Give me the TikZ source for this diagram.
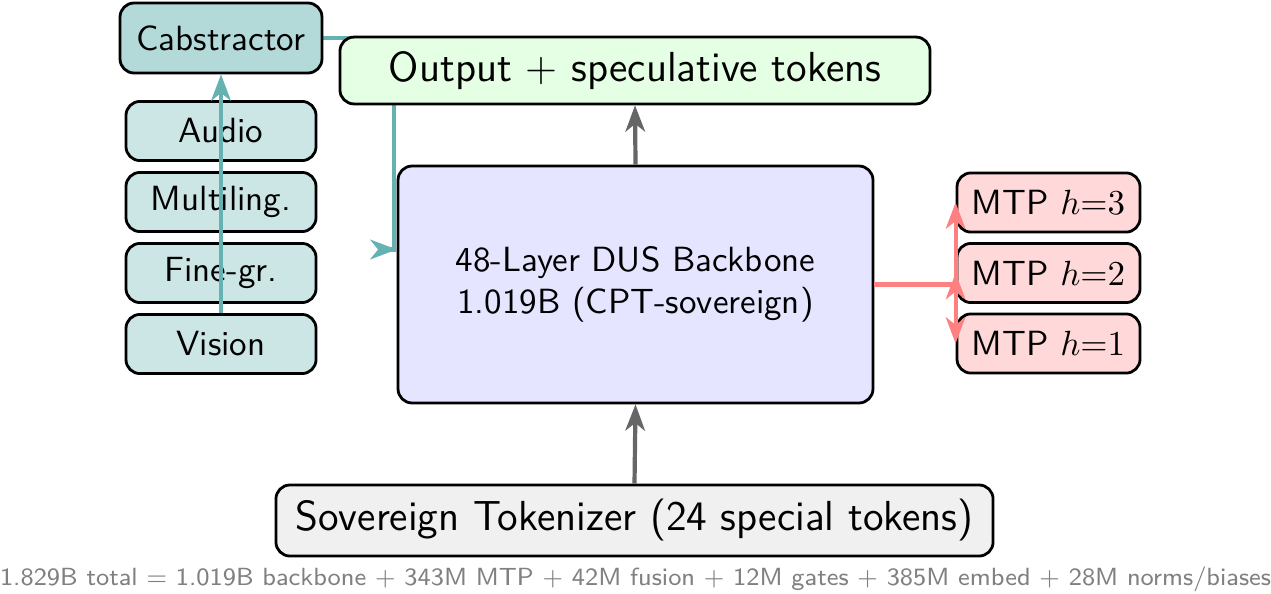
\documentclass[tikz,border=0pt]{standalone}
\usetikzlibrary{arrows.meta,backgrounds,calc}
\renewcommand\familydefault{\sfdefault}
\definecolor{cabfill}{HTML}{B3D9D9}
\definecolor{modfill}{HTML}{CCE5E5}
\definecolor{tealline}{HTML}{66B2B2}
\definecolor{outfill}{HTML}{E5FFE5}
\definecolor{bbfill}{HTML}{E5E5FF}
\definecolor{mtpfill}{HTML}{FFD9D9}
\definecolor{redline}{HTML}{FF8080}
\definecolor{tokfill}{HTML}{F0F0F0}
\definecolor{grayline}{HTML}{666666}
\tikzset{
  boxbase/.style={draw=black, thick, rounded corners=4pt, inner sep=0pt, align=center},
  cabbox/.style={boxbase, fill=cabfill, minimum width=57.7pt, minimum height=20pt},
  modbox/.style={boxbase, fill=modfill, minimum width=54.3pt, minimum height=16.9pt},
  outbox/.style={boxbase, fill=outfill, minimum width=168.6pt, minimum height=19.1pt, font=\large},
  bbbox/.style={boxbase, fill=bbfill, minimum width=135.7pt, minimum height=67.7pt},
  tokbox/.style={boxbase, fill=tokfill, minimum width=204.9pt, minimum height=20.3pt, font=\large},
  mtpbox/.style={boxbase, fill=mtpfill, minimum width=52.3pt, minimum height=16.9pt},
  arr/.style={very thick, -{Stealth[length=7.5pt, width=5.6pt, inset=2.2pt]}},
  tealarr/.style={arr, draw=tealline},
  redarr/.style={arr, draw=redline},
  grayarr/.style={arr, draw=grayline},
  note/.style={font=\fontsize{7.1pt}{9pt}\selectfont, text=black!50, inner sep=0pt}
}
\begin{document}
\begin{tikzpicture}[x=0.285714pt, y=-0.285714pt]
\useasboundingbox (0,0) rectangle (1271,593);
% modality column
\node[cabbox] (cab) at (221,38) {Cabstractor};
\node[modbox] (audio) at (221,131) {Audio};
\node[modbox] (multi) at (221,202) {Multiling.};
\node[modbox] (fine) at (221,273) {Fine-gr.};
\node[modbox] (vision) at (221,344) {Vision};
\draw[tealarr] (vision.north) -- (cab.south);
% main column
\node[bbbox] (bb) at (635.5,284.5) {48-Layer DUS Backbone\\1.019B (CPT-sovereign)};
\coordinate (bend) at (394,38);
\coordinate (bbin) at ($(bb.west)+(0,-35)$);
\begin{scope}[on background layer]
\draw[tealarr] (cab.east) -- (bend) |- (bbin);
\end{scope}
\node[outbox] (out) at (635,70.5) {Output + speculative tokens};
\node[tokbox] (tok) at (634.5,520.5) {Sovereign Tokenizer (24 special tokens)};
\draw[grayarr] (bb.north) -- (out.south);
\draw[grayarr] (tok.north) -- (bb.south);
% MTP heads
\node[mtpbox] (m3) at (1048.5,202.5) {MTP $h{=}3$};
\node[mtpbox] (m2) at (1048.5,273) {MTP $h{=}2$};
\node[mtpbox] (m1) at (1048.5,343.5) {MTP $h{=}1$};
\draw[redarr] (bb.east) -| (m3.west);
\draw[redarr] (bb.east) -| (m2.west);
\draw[redarr] (bb.east) -| (m1.west);
% note
\node[note] (total) at (635.5,579) {1.829B total = 1.019B backbone + 343M MTP + 42M fusion + 12M gates + 385M embed + 28M norms/biases};
\end{tikzpicture}
\end{document}
